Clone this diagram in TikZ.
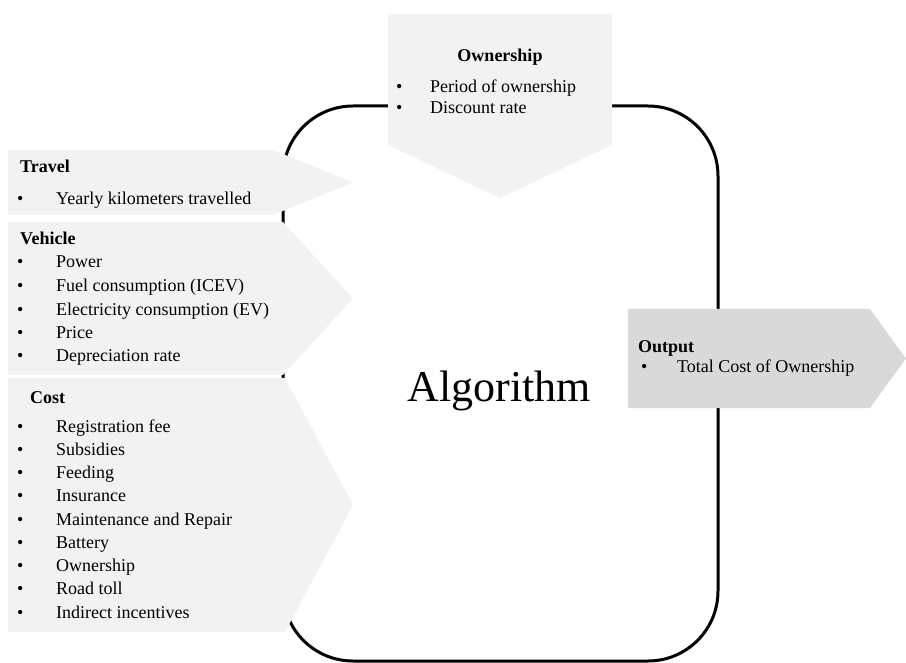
\documentclass[tikz,border=0pt]{standalone}
\usepackage{fontspec}
\setmainfont{Liberation Serif}
\usepackage{xcolor}
\definecolor{panelgray}{HTML}{F2F2F2}
\definecolor{outgray}{HTML}{D9D9D9}
\newcommand{\itembullet}[1][39pt]{\makebox[#1][l]{\textbullet}}

\begin{document}
\begin{tikzpicture}[
				x=1pt, y=-1pt,
				panel/.style = {fill=panelgray, draw=none},
				outpanel/.style = {fill=outgray, draw=none},
				head/.style = {font=\bfseries\fontsize{18}{22}\selectfont, inner sep=0pt, anchor=base west},
				items/.style = {font=\fontsize{18}{23.3}\selectfont, inner sep=0pt, anchor=base west, align=left},
				frame/.style = {line width=3pt, rounded corners=70pt}
				]
				\useasboundingbox (0,0) rectangle (906,663);
				
				% algorithm frame, behind the panels
				\draw[frame] (283,106) rectangle (718,661);
				
				% input and output panels
				\fill[panel] (8,150) -- (273,150) -- (353,182.5) -- (273,215) -- (8,215) -- cycle;
				\fill[panel] (8,222) -- (283,222) -- (353,298.5) -- (283,375) -- (8,375) -- cycle;
				\fill[panel] (8,378) -- (285,378) -- (353,505) -- (285,632) -- (8,632) -- cycle;
				\fill[panel] (388,14) -- (612,14) -- (612,145) -- (500,198) -- (388,145) -- cycle;
				\fill[outpanel] (628,309) -- (870,309) -- (906,358.5) -- (870,408) -- (628,408) -- cycle;
				
				% lists are placed at the baseline of their last line
				\node[head] (travel) at (20,173) {Travel};
				\node[items] (travelitems) at (17,205) {\itembullet Yearly kilometers travelled};
				
				\node[head] (vehicle) at (20,245) {Vehicle};
				\node[items, font=\fontsize{18}{23.5}\selectfont] (vehicleitems) at (17,362) {\itembullet Power\\
					\itembullet Fuel consumption (ICEV)\\
					\itembullet Electricity consumption (EV)\\
					\itembullet Price\\
					\itembullet Depreciation rate};
				
				\node[head] (cost) at (30,403) {Cost};
				\node[items, font=\fontsize{18}{23.25}\selectfont] (costitems) at (17,618) {\itembullet Registration fee\\
					\itembullet Subsidies\\
					\itembullet Feeding\\
					\itembullet Insurance\\
					\itembullet Maintenance and Repair\\
					\itembullet Battery\\
					\itembullet Ownership\\
					\itembullet Road toll\\
					\itembullet Indirect incentives};
				
				\node[head, anchor=base] (ownership) at (500,62) {Ownership};
				\node[items, font=\fontsize{18}{21}\selectfont] (ownershipitems) at (396,114) {\itembullet[34pt]Period of ownership\\
					\itembullet[34pt]Discount rate};
				
				\node[head] (output) at (638,353) {Output};
				\node[items] (outputitems) at (641,373) {\itembullet[36pt]Total Cost of Ownership};
				
				\node[font=\fontsize{44}{50}\selectfont, inner sep=0pt, anchor=base] (algorithm) at (499.5,401) {Algorithm};
			\end{tikzpicture}
\end{document}
